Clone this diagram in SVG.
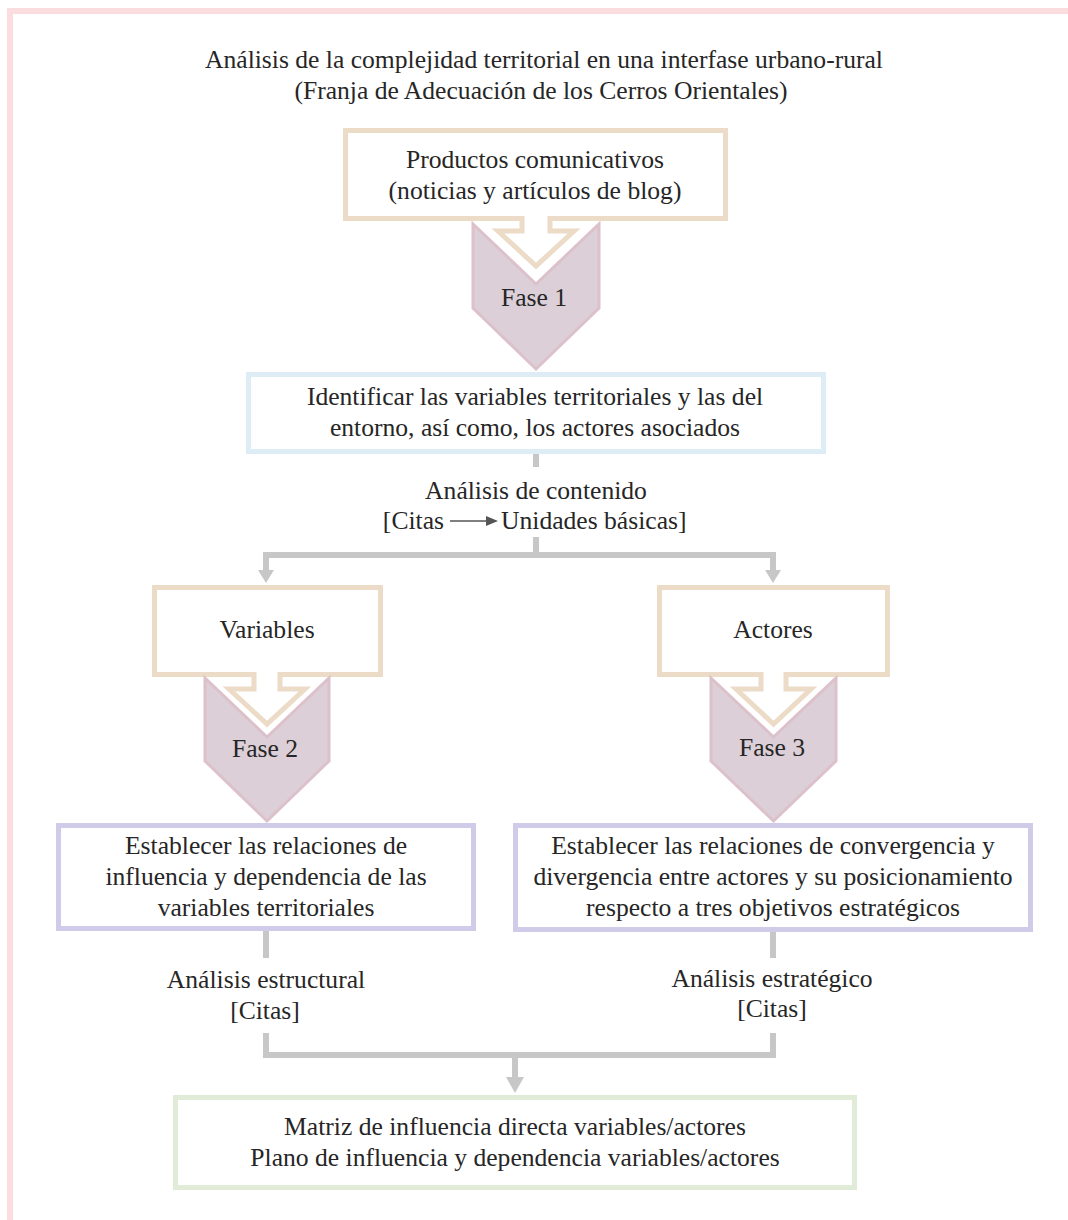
<svg xmlns="http://www.w3.org/2000/svg" width="1068" height="1220" viewBox="0 0 1068 1220">
<style>
text{font-family:"Liberation Serif","Times New Roman",serif;font-size:25.6px;fill:#262626;text-anchor:middle}
.tan{fill:#fff;stroke:#ecdcc7;stroke-width:5}
.chev{fill:#dccfd7;stroke:#dcc1cb;stroke-width:3}
.conn{fill:none;stroke:#c7c7c7;stroke-width:6}
.head{fill:#c7c7c7}
</style>
<g id="frame">
<path d="M7,11 H1068 M10,8 V1220" fill="none" stroke="#fbdcdf" stroke-width="6"/>
</g>
<g id="title">
<text x="544" y="68">Análisis de la complejidad territorial en una interfase urbano-rural</text>
<text x="541" y="99">(Franja de Adecuación de los Cerros Orientales)</text>
</g>
<g id="productos">
<path class="tan" d="M345.5,130.5 H725.5 V218.5 H550 V231 H574 L536,266 L498,231 H522 V218.5 H345.5 Z"/>
<text x="535" y="168">Productos comunicativos</text>
<text x="535" y="199">(noticias y artículos de blog)</text>
</g>
<g id="fase1">
<polygon class="chev" points="473,224 536,284 599,224 599,308 536,369 473,308"/>
<text x="534" y="306">Fase 1</text>
</g>
<g id="identificar">
<rect x="248.5" y="374.5" width="575" height="77" fill="#fff" stroke="#deecf6" stroke-width="5"/>
<text x="535" y="405">Identificar las variables territoriales y las del</text>
<text x="535" y="436">entorno, así como, los actores asociados</text>
</g>
<g id="variables">
<path class="tan" d="M154.5,587.5 H380.5 V674.5 H280 V689 H305 L267,724 L229,689 H254 V674.5 H154.5 Z"/>
<text x="267" y="638">Variables</text>
</g>
<g id="fase2">
<polygon class="chev" points="205,678 267,737 329,678 329,761 267,821 205,761"/>
<text x="265" y="757">Fase 2</text>
</g>
<g id="actores">
<path class="tan" d="M659.5,587.5 H887.5 V674.5 H786 V689 H811 L773.5,724 L736,689 H761 V674.5 H659.5 Z"/>
<text x="773" y="638">Actores</text>
</g>
<g id="fase3">
<polygon class="chev" points="711,678 773.5,737 836,678 836,761 773.5,821 711,761"/>
<text x="772" y="756">Fase 3</text>
</g>
<g id="relaciones-variables">
<rect x="58.5" y="825.5" width="415" height="103" fill="#fff" stroke="#cfcbe8" stroke-width="5"/>
<text x="266" y="854">Establecer las relaciones de</text>
<text x="266" y="885">influencia y dependencia de las</text>
<text x="266" y="916">variables territoriales</text>
</g>
<g id="relaciones-actores">
<rect x="515.5" y="825.5" width="515" height="104" fill="#fff" stroke="#cfcbe8" stroke-width="5"/>
<text x="773" y="854">Establecer las relaciones de convergencia y</text>
<text x="773" y="885">divergencia entre actores y su posicionamiento</text>
<text x="773" y="916">respecto a tres objetivos estratégicos</text>
</g>
<g id="resultado">
<rect x="175.5" y="1097.5" width="679" height="90" fill="#fff" stroke="#e0ecd8" stroke-width="5"/>
<text x="515" y="1135">Matriz de influencia directa variables/actores</text>
<text x="515" y="1166">Plano de influencia y dependencia variables/actores</text>
</g>
<g id="connectors">
<path class="conn" d="M536,454 V467"/>
<text x="536" y="499">Análisis de contenido</text>
<text x="444" y="529" style="text-anchor:end">[Citas</text>
<path d="M450,521 H487" stroke="#555" stroke-width="1.5" fill="none"/>
<polygon points="486,516 498,521 486,526" fill="#555"/>
<text x="501" y="529" style="text-anchor:start">Unidades básicas]</text>
<path class="conn" d="M536,537 V555 M266,555 H773 M266,552 V571 M773,552 V571"/>
<polygon class="head" points="258,570 274,570 266,583"/>
<polygon class="head" points="765,570 781,570 773,583"/>
<path class="conn" d="M266,931 V958 M773,932 V958"/>
<text x="266" y="988">Análisis estructural</text>
<text x="265" y="1019">[Citas]</text>
<text x="772" y="987">Análisis estratégico</text>
<text x="772" y="1017">[Citas]</text>
<path class="conn" d="M266,1033 V1055 H773 V1033 M515,1055 V1078"/>
<polygon class="head" points="506,1077 524,1077 515,1093"/>
</g>
</svg>
